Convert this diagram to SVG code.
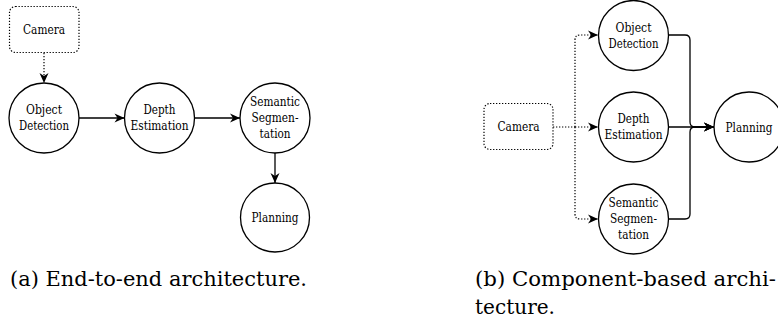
<svg xmlns="http://www.w3.org/2000/svg" width="778" height="322" viewBox="0 0 778 322">
<style>
.n{fill:#fff;stroke:#000;stroke-width:1.3}
.d{fill:#fff;stroke:#000;stroke-width:1.2;stroke-dasharray:1.3 1.7}
text{font-family:"DejaVu Serif",serif;fill:#000}
.t{font-size:12px;text-anchor:middle}
.c{font-size:20px}
.s{fill:none;stroke:#000;stroke-width:1.3;marker-end:url(#ah)}
.p{fill:none;stroke:#000;stroke-width:1.2;stroke-dasharray:1.3 1.7;marker-end:url(#ah)}
.pl{fill:none;stroke:#000;stroke-width:1.2;stroke-dasharray:1.3 1.7}
</style>
<defs>
<marker id="ah" markerUnits="userSpaceOnUse" markerWidth="12" markerHeight="10" viewBox="-10 -5 11 10" refX="0" refY="0" orient="auto">
<path d="M0,0 L-10,-4.5 L-7,0 L-10,4.5 Z" fill="#000" stroke="none"/>
</marker>
</defs>
<rect width="778" height="322" fill="#fff"/>
<g id="connectors">
<path class="p" d="M44,53 V83"/>
<path class="s" d="M79,118 H124.5"/>
<path class="s" d="M194.5,118 H240"/>
<path class="s" d="M275,153 V183"/>
<path class="pl" d="M553,127 H575"/>
<path class="p" d="M575,127 V40 Q575,35 580,35 H598"/>
<path class="p" d="M575,127 H598"/>
<path class="p" d="M575,127 V214 Q575,219 580,219 H598"/>
<path class="s" d="M668.5,35 H685 Q690,35 690,40 V122 Q690,127 695,127 H714"/>
<path class="s" d="M668.5,127 H714"/>
<path class="s" d="M668.5,219 H685 Q690,219 690,214 V132 Q690,127 695,127 H714"/>
</g>
<g id="a-camera"><rect class="d" x="9.5" y="6.5" width="69.5" height="46" rx="6"/><text class="t" x="44" y="34" textLength="42" lengthAdjust="spacingAndGlyphs">Camera</text></g>
<g id="a-object"><circle class="n" cx="44" cy="118" r="35"/><text class="t" x="44" y="114" textLength="36" lengthAdjust="spacingAndGlyphs">Object</text><text class="t" x="44" y="130" textLength="50" lengthAdjust="spacingAndGlyphs">Detection</text></g>
<g id="a-depth"><circle class="n" cx="159.5" cy="118" r="35"/><text class="t" x="159.5" y="114" textLength="32" lengthAdjust="spacingAndGlyphs">Depth</text><text class="t" x="159.5" y="130" textLength="58" lengthAdjust="spacingAndGlyphs">Estimation</text></g>
<g id="a-semantic"><circle class="n" cx="275" cy="118" r="35"/><text class="t" x="275" y="106" textLength="50" lengthAdjust="spacingAndGlyphs">Semantic</text><text class="t" x="275" y="122" textLength="47" lengthAdjust="spacingAndGlyphs">Segmen-</text><text class="t" x="275" y="138" textLength="31" lengthAdjust="spacingAndGlyphs">tation</text></g>
<g id="a-planning"><circle class="n" cx="275" cy="217.5" r="34.5"/><text class="t" x="275" y="222" textLength="47" lengthAdjust="spacingAndGlyphs">Planning</text></g>
<g id="b-camera"><rect class="d" x="484" y="103.5" width="69" height="46" rx="6"/><text class="t" x="518.5" y="131" textLength="42" lengthAdjust="spacingAndGlyphs">Camera</text></g>
<g id="b-object"><circle class="n" cx="633.5" cy="35.5" r="35"/><text class="t" x="633.5" y="31.5" textLength="36" lengthAdjust="spacingAndGlyphs">Object</text><text class="t" x="633.5" y="47.5" textLength="50" lengthAdjust="spacingAndGlyphs">Detection</text></g>
<g id="b-depth"><circle class="n" cx="633.5" cy="127" r="35"/><text class="t" x="633.5" y="123" textLength="32" lengthAdjust="spacingAndGlyphs">Depth</text><text class="t" x="633.5" y="139" textLength="58" lengthAdjust="spacingAndGlyphs">Estimation</text></g>
<g id="b-semantic"><circle class="n" cx="633.5" cy="219" r="35"/><text class="t" x="633.5" y="207" textLength="50" lengthAdjust="spacingAndGlyphs">Semantic</text><text class="t" x="633.5" y="223" textLength="47" lengthAdjust="spacingAndGlyphs">Segmen-</text><text class="t" x="633.5" y="239" textLength="31" lengthAdjust="spacingAndGlyphs">tation</text></g>
<g id="b-planning"><circle class="n" cx="749" cy="127" r="35"/><text class="t" x="749" y="131.5" textLength="47" lengthAdjust="spacingAndGlyphs">Planning</text></g>
<g id="captions">
<text class="c" x="10" y="286" textLength="297" lengthAdjust="spacingAndGlyphs">(a) End-to-end architecture.</text>
<text class="c" x="475" y="286" textLength="301" lengthAdjust="spacingAndGlyphs">(b) Component-based archi-</text>
<text class="c" x="475" y="314" textLength="80" lengthAdjust="spacingAndGlyphs">tecture.</text>
</g>
</svg>
